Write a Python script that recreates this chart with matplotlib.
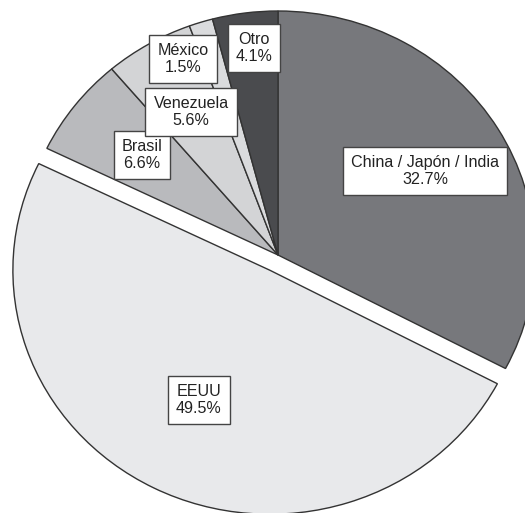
import matplotlib.pyplot as plt

plt.rcParams['font.family'] = ['Liberation Sans', 'DejaVu Sans']

regions = ['China / Japón / India', 'EEUU', 'Brasil', 'Venezuela', 'México', 'Otro']
shares = [32.7, 49.5, 6.6, 5.6, 1.5, 4.1]

colors = ['#77787c', '#e8e9eb', '#b9babd', '#d3d4d6', '#dadbdd', '#4a4b4e']
explode = [0, 0.07, 0, 0, 0, 0]
# label box centres, in pixels from the top-left corner
label_px = [(425, 171), (199, 400), (142, 155), (191, 112), (183, 59), (254, 48)]

W, H = 525, 513
fig = plt.figure(figsize=(W / 100, H / 100), dpi=100)
ax = fig.add_axes([0, 0, 1, 1])

ax.pie(shares, colors=colors, explode=explode, startangle=90, counterclock=False,
       wedgeprops=dict(edgecolor='#333333', linewidth=1.0))

# the original is slightly stretched sideways and cropped by the frame
cx, cy, rx, ry = 278, 255, 257, 244
ax.set_aspect('auto')
ax.set_xlim(-cx / rx, (W - cx) / rx)
ax.set_ylim(-(H - cy) / ry, cy / ry)
ax.axis('off')

for name, val, (px, py) in zip(regions, shares, label_px):
    ax.text(px / W, 1 - py / H, f'{name}\n{val:.1f}%', transform=ax.transAxes,
            ha='center', va='center', fontsize=11.6, color='#222222',
            linespacing=1.1,
            bbox=dict(boxstyle='square,pad=0.5', facecolor='white',
                      edgecolor='#444444', linewidth=1.0))

fig.savefig('out.png', dpi=100)
